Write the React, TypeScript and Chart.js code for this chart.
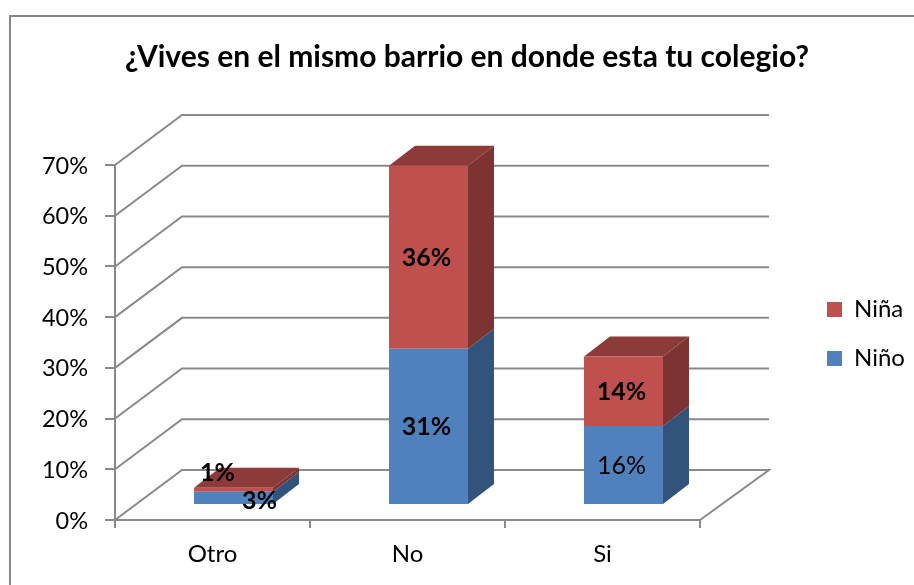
import React, { useEffect, useRef } from "react";
import { Chart, registerables } from "chart.js";

Chart.register(...registerables);

const titleText = "¿Vives en el mismo barrio en donde esta tu colegio?";
const categories = ["Otro", "No", "Si"];
const ninoValues = [2.6, 30.8, 15.6];
const ninaValues = [0.8, 36.1, 13.7];
const ninoLabels = ["3%", "31%", "16%"];
const ninaLabels = ["1%", "36%", "14%"];

const FONT = "Lato, Carlito, Calibri, sans-serif";
const GRID = "#8a8a8a";
const BAR_SHIFT = { x: 21, y: -15 };
const BAR_DEPTH = { x: 26, y: -20 };
const WALL = { left: 67, right: 69, y: -50 };

const shade = [
  { front: "#4F81BD", side: "#31537C", top: "#3A5F8C" },
  { front: "#C0504D", side: "#7C3331", top: "#8D3B39" },
];

const labelStyle = [
  { text: ninoLabels, bold: [true, true, false], nudge: [{ x: 26, y: 3.5 }, { x: -2, y: 1 }, { x: -2, y: 1 }] },
  { text: ninaLabels, bold: [true, true, true], nudge: [{ x: -16, y: -17 }, { x: -2, y: 1 }, { x: -2, y: 1 }] },
];

function poly(ctx: CanvasRenderingContext2D, pts: number[][], color: string) {
  ctx.beginPath();
  pts.forEach(([x, y], i) => (i ? ctx.lineTo(x, y) : ctx.moveTo(x, y)));
  ctx.closePath();
  ctx.fillStyle = color;
  ctx.fill();
}

const frame3d = {
  id: "frame3d",
  afterLayout(chart: any) {
    const lg = chart.legend;
    const pad = lg.options.labels.padding;
    const shift = 827 - pad - lg.left;
    lg.left += shift;
    lg.right += shift;
    lg.top = 83;
  },
  beforeDraw(chart: any) {
    const { ctx } = chart;
    ctx.save();
    ctx.strokeStyle = "#868686";
    ctx.lineWidth = 2;
    ctx.strokeRect(10, 16, 1000, 700);
    ctx.restore();
  },
  beforeDatasetsDraw(chart: any) {
    const { ctx, scales } = chart;
    const { x: xs, y: ys } = scales;
    ctx.save();
    ctx.strokeStyle = GRID;
    ctx.lineWidth = 2;
    ys.ticks.forEach((t: any) => {
      const py = ys.getPixelForValue(t.value);
      ctx.beginPath();
      ctx.moveTo(xs.left, py);
      ctx.lineTo(xs.left + WALL.left, py + WALL.y);
      ctx.lineTo(xs.right + WALL.right, py + WALL.y);
      if (t.value === 0) ctx.lineTo(xs.right, py);
      ctx.stroke();
    });
    ctx.restore();

    ctx.save();
    ctx.translate(BAR_SHIFT.x, BAR_SHIFT.y);
    const last = chart.data.datasets.length - 1;
    chart.data.datasets.forEach((_: any, d: number) => {
      chart.getDatasetMeta(d).data.forEach((b: any) => {
        const r = b.x + b.width / 2;
        const l = b.x - b.width / 2;
        poly(ctx, [[r, b.y], [r + BAR_DEPTH.x, b.y + BAR_DEPTH.y], [r + BAR_DEPTH.x, b.base + BAR_DEPTH.y], [r, b.base]], shade[d].side);
        if (d === last) {
          poly(ctx, [[l, b.y], [l + BAR_DEPTH.x, b.y + BAR_DEPTH.y], [r + BAR_DEPTH.x, b.y + BAR_DEPTH.y], [r, b.y]], shade[d].top);
        }
      });
    });
  },
  afterDatasetsDraw(chart: any) {
    const { ctx } = chart;
    ctx.restore();
    ctx.save();
    ctx.fillStyle = "#000";
    ctx.textAlign = "center";
    ctx.textBaseline = "middle";
    chart.data.datasets.forEach((_: any, d: number) => {
      chart.getDatasetMeta(d).data.forEach((b: any, i: number) => {
        const st = labelStyle[d];
        ctx.font = `${st.bold[i] ? "bold " : ""}25px ${FONT}`;
        ctx.fillText(
          st.text[i],
          b.x + BAR_SHIFT.x + st.nudge[i].x,
          (b.y + b.base) / 2 + BAR_SHIFT.y + st.nudge[i].y
        );
      });
    });
    ctx.restore();
  },
};

export default function App() {
  const ref = useRef<HTMLCanvasElement>(null);
  useEffect(() => {
    const chart = new Chart(ref.current as HTMLCanvasElement, {
      type: "bar",
      data: {
        labels: categories,
        datasets: [
          { label: "Niño", data: ninoValues, backgroundColor: shade[0].front, borderWidth: 0 },
          { label: "Niña", data: ninaValues, backgroundColor: shade[1].front, borderWidth: 0 },
        ],
      },
      plugins: [frame3d],
      options: {
        animation: false,
        responsive: false,
        clip: false,
        barPercentage: 0.405,
        categoryPercentage: 1,
        layout: { autoPadding: false, padding: { left: 20, right: 0, top: 0, bottom: 0 } },
        plugins: {
          tooltip: { enabled: false },
          title: {
            display: true,
            text: titleText,
            color: "#000",
            font: { family: FONT, size: 30, weight: "bold" },
            padding: { top: 39, bottom: 90 },
          },
          legend: {
            position: "right",
            reverse: true,
            labels: {
              color: "#000",
              font: { family: FONT, size: 24 },
              boxWidth: 15,
              boxHeight: 15,
              padding: 25,
            },
          },
        },
        scales: {
          x: {
            stacked: true,
            grid: { drawOnChartArea: false, color: GRID, lineWidth: 2, tickLength: 8, offset: true },
            border: { color: GRID, width: 2 },
            ticks: { color: "#000", font: { family: FONT, size: 24 }, padding: 12, maxRotation: 0 },
            afterFit: (s: any) => { s.height = 65; },
          },
          y: {
            stacked: true,
            min: 0,
            max: 70,
            grid: { drawOnChartArea: false, color: GRID, lineWidth: 2, tickLength: 10 },
            border: { color: GRID, width: 2 },
            ticks: {
              stepSize: 10,
              color: "#000",
              font: { family: FONT, size: 23.5 },
              padding: 17,
              labelOffset: 1,
              callback: (v: any) => `${v}%`,
            },
            afterFit: (s: any) => { s.width = 95; },
          },
          y2: {
            type: "linear",
            position: "right",
            grid: { display: false },
            border: { display: false },
            ticks: { display: false },
            afterFit: (s: any) => { s.width = 214 - s.chart.legend.width; },
          },
        },
      },
    } as any);
    return () => chart.destroy();
  }, []);
  return (
    <canvas
      ref={ref}
      width={914}
      height={585}
      style={{ position: "absolute", left: 0, top: 0, display: "block" }}
    />
  );
}
